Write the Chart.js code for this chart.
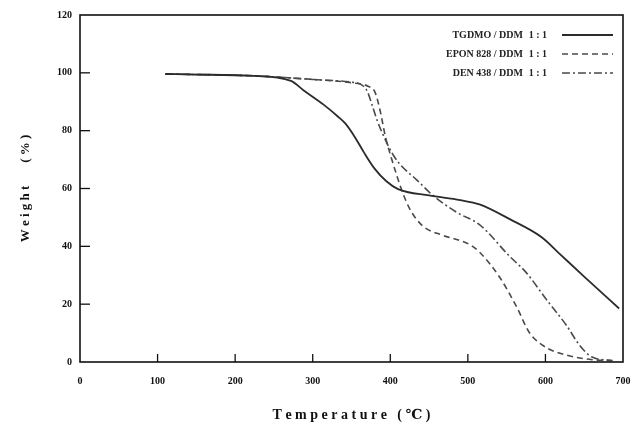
<!DOCTYPE html>
<html>
<head>
<meta charset="utf-8">
<script src="https://cdn.jsdelivr.net/npm/chart.js@4.4.0/dist/chart.umd.min.js"></script>
<style>
  html, body { margin: 0; padding: 0; background: #fff; }
  #wrap { width: 637px; height: 428px; position: relative; }
</style>
</head>
<body>
<div id="wrap"><canvas id="tgaChart" width="637" height="428"></canvas></div>
<script>
// series data
const tgdmoTemp   = [110, 150, 220, 272, 288, 314, 332, 342, 355, 366, 380, 395, 410, 450, 490, 515, 554, 596, 618, 652, 695];
const tgdmoWeight = [99.6, 99.4, 99, 97.2, 94, 89, 85, 82.5, 77.5, 72.5, 66.8, 62.5, 59.8, 57.6, 56, 54.5, 49.4, 43, 37.5, 29, 18.5];

const eponTemp   = [110, 220, 306, 349, 372, 380, 386, 394, 402, 409, 416, 426, 442, 468, 490, 503, 515, 541, 563, 579, 601, 627, 660, 688];
const eponWeight = [99.6, 99, 97.6, 96.6, 95.3, 93.5, 88, 77.6, 70, 64, 58.5, 52.5, 47, 43.8, 42, 40.5, 38, 29.3, 19, 10.3, 5, 2.4, 0.8, 0.5];

const denTemp   = [110, 220, 306, 349, 362, 370, 377, 383, 396, 404, 412, 434, 455, 486, 515, 554, 575, 601, 627, 644, 660, 685];
const denWeight = [99.6, 99, 97.6, 96.8, 96, 93.8, 88.5, 83.6, 75.5, 71.5, 68.5, 63, 57.6, 51.7, 47.5, 36.5, 31, 21.7, 12.7, 5.8, 1.7, 0.5];

const seriesNames  = ['TGDMO / DDM', 'EPON 828 / DDM', 'DEN 438 / DDM'];
const seriesRatios = ['1 : 1', '1 : 1', '1 : 1'];

const xTicks = [0, 100, 200, 300, 400, 500, 600, 700];
const yTicks = [0, 20, 40, 60, 80, 100, 120];

function toPoints(xs, ys) {
    return xs.map((x, i) => ({ x: x, y: ys[i] }));
}

const serif = "'Liberation Serif', 'DejaVu Serif', serif";

// inward tick marks, full frame and the in-plot legend
const framePlugin = {
    id: 'frame',
    afterDraw(chart) {
        const ctx = chart.ctx;
        const a = chart.chartArea;
        const xs = chart.scales.x;
        const ys = chart.scales.y;
        ctx.save();
        ctx.strokeStyle = '#111';
        ctx.lineWidth = 1.6;
        ctx.setLineDash([]);
        ctx.strokeRect(a.left, a.top, a.right - a.left, a.bottom - a.top);
        ctx.lineWidth = 1.3;
        xTicks.forEach(v => {
            if (v === 0 || v === 700) return;
            const px = xs.getPixelForValue(v);
            ctx.beginPath();
            ctx.moveTo(px, a.bottom);
            ctx.lineTo(px, a.bottom - 8);
            ctx.stroke();
        });
        yTicks.forEach(v => {
            if (v === 0 || v === 120) return;
            const py = ys.getPixelForValue(v);
            ctx.beginPath();
            ctx.moveTo(a.left, py);
            ctx.lineTo(a.left + 10, py);
            ctx.stroke();
        });

        // legend
        ctx.font = 'bold 10px ' + serif;
        ctx.fillStyle = '#222';
        ctx.textBaseline = 'middle';
        const rowY = [a.top + 20, a.top + 39, a.top + 58];
        chart.data.datasets.forEach((ds, i) => {
            const y = rowY[i];
            ctx.textAlign = 'right';
            ctx.fillText(seriesNames[i], a.right - 100, y);
            ctx.fillText(seriesRatios[i], a.right - 76, y);
            ctx.strokeStyle = ds.borderColor;
            ctx.lineWidth = ds.borderWidth;
            ctx.setLineDash(ds.borderDash || []);
            ctx.beginPath();
            ctx.moveTo(a.right - 61, y);
            ctx.lineTo(a.right - 10, y);
            ctx.stroke();
        });
        ctx.restore();
    }
};

const ctx = document.getElementById('tgaChart').getContext('2d');

new Chart(ctx, {
    type: 'line',
    data: {
        datasets: [{
            label: seriesNames[0],
            data: toPoints(tgdmoTemp, tgdmoWeight),
            borderColor: '#2b2b2b',
            borderWidth: 1.8,
            pointRadius: 0,
            cubicInterpolationMode: 'monotone',
            fill: false
        }, {
            label: seriesNames[1],
            data: toPoints(eponTemp, eponWeight),
            borderColor: '#4a4a4a',
            borderWidth: 1.6,
            borderDash: [6, 4],
            pointRadius: 0,
            cubicInterpolationMode: 'monotone',
            fill: false
        }, {
            label: seriesNames[2],
            data: toPoints(denTemp, denWeight),
            borderColor: '#4a4a4a',
            borderWidth: 1.6,
            borderDash: [8, 3, 2, 3],
            pointRadius: 0,
            cubicInterpolationMode: 'monotone',
            fill: false
        }]
    },
    options: {
        responsive: false,
        animation: false,
        layout: { padding: { left: 14, right: 14, top: 15, bottom: 0 } },
        scales: {
            x: {
                type: 'linear',
                min: 0,
                max: 700,
                afterBuildTicks: s => { s.ticks = xTicks.map(v => ({ value: v })); },
                afterFit: s => { s.height = 66; s.paddingRight = 0; s.paddingLeft = 0; },
                grid: { display: false, drawTicks: false },
                border: { display: false },
                ticks: {
                    padding: 13,
                    color: '#111',
                    font: { family: serif, size: 10, weight: 'bold' }
                },
                title: {
                    display: true,
                    text: 'T e m p e r a t u r e   ( ℃ )',
                    color: '#111',
                    padding: { top: 6 },
                    font: { family: serif, size: 14, weight: 'bold' }
                }
            },
            y: {
                min: 0,
                max: 120,
                afterBuildTicks: s => { s.ticks = yTicks.map(v => ({ value: v })); },
                afterFit: s => { s.width = 66; },
                grid: { display: false, drawTicks: false },
                border: { display: false },
                ticks: {
                    padding: 8,
                    color: '#111',
                    font: { family: serif, size: 10, weight: 'bold' }
                },
                title: {
                    display: true,
                    text: 'W e i g h t       ( % )',
                    color: '#111',
                    padding: { bottom: 4 },
                    font: { family: serif, size: 13, weight: 'bold' }
                }
            }
        },
        plugins: {
            legend: { display: false },
            tooltip: { enabled: false }
        }
    },
    plugins: [framePlugin]
});
</script>
</body>
</html>
